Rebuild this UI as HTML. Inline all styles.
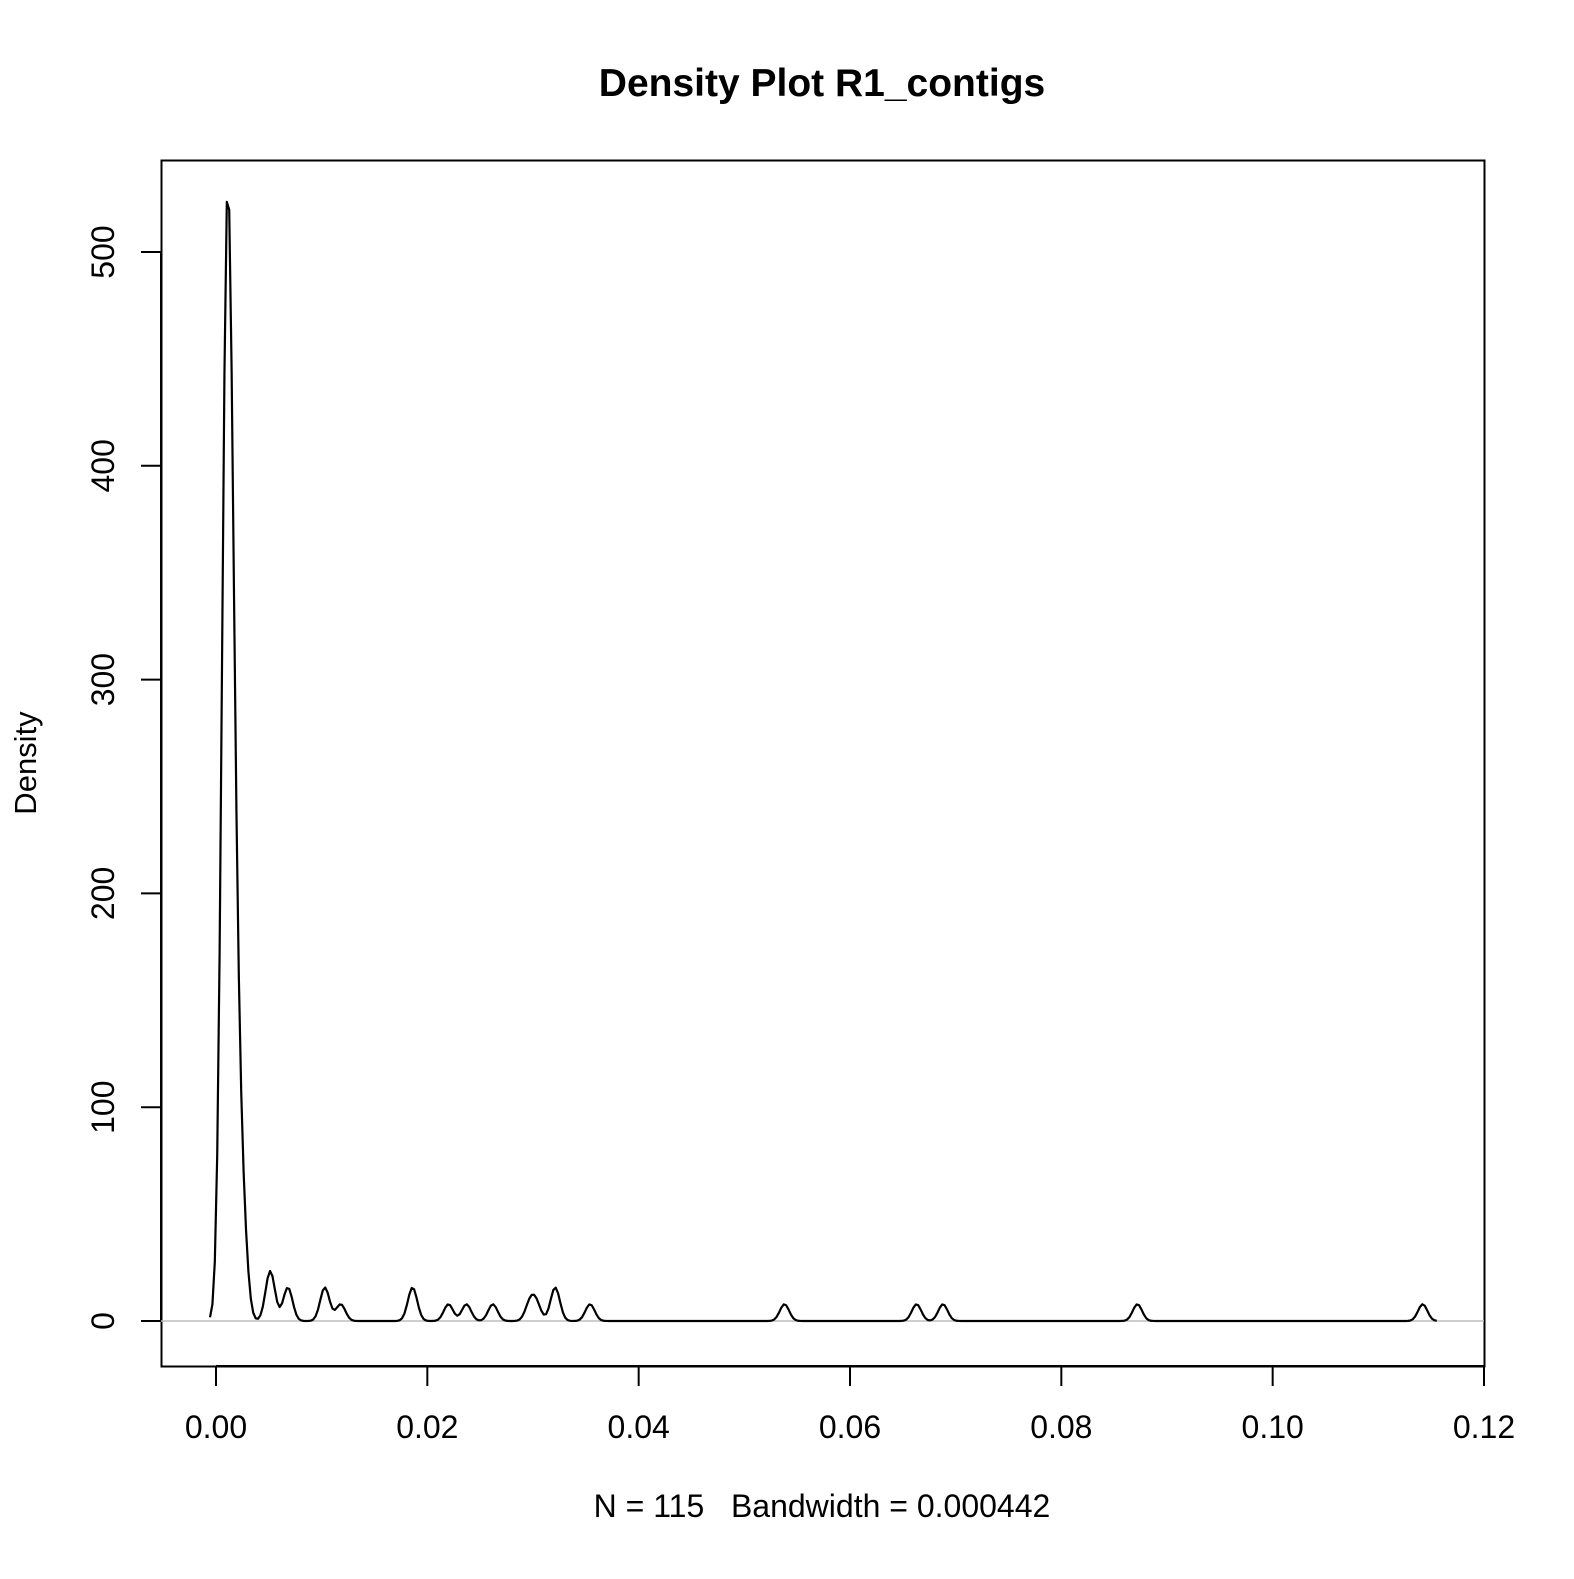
<!DOCTYPE html>
<html><head><meta charset="utf-8"><style>
html,body{margin:0;padding:0;background:#fff}
svg text{font-family:"Liberation Sans",Arial,sans-serif;fill:#000}
</style></head><body>
<svg id="chart" width="1574" height="1574" viewBox="0 0 1574 1574" xmlns="http://www.w3.org/2000/svg">
<rect width="1574" height="1574" fill="#fff"/>
<text x="822" y="96" font-size="39" font-weight="bold" text-anchor="middle">Density Plot R1_contigs</text>
<rect x="161.5" y="160.5" width="1323" height="1206" fill="none" stroke="#000" stroke-width="2"/>
<g id="xaxis"></g>
<g id="yaxis"></g>
<text transform="translate(36,763) rotate(-90)" font-size="31" text-anchor="middle">Density</text>
<text x="822" y="1517" font-size="32" text-anchor="middle" style="white-space:pre" xml:space="preserve">N = 115   Bandwidth = 0.000442</text>
<g id="plot"></g>
</svg>
<script>
// sample values (density estimated from these)
const mainCluster = [
 0.00076,0.00076,0.00076,0.00076,0.00076,0.00076,0.00076,0.00076,0.00076,0.00076,0.00076,0.00076,
 0.0009,0.0009,0.0009,0.0009,0.0009,0.0009,0.0009,0.0009,0.0009,0.0009,0.0009,0.0009,0.0009,0.0009,0.0009,
 0.00105,0.00105,0.00105,0.00105,0.00105,0.00105,0.00105,0.00105,0.00105,0.00105,0.00105,0.00105,0.00105,0.00105,0.00105,0.00105,
 0.0012,0.0012,0.0012,0.0012,0.0012,0.0012,0.0012,0.0012,0.0012,0.0012,0.0012,0.0012,0.0012,0.0012,0.0012,
 0.0014,0.0014,0.0014,0.0014,0.0014,0.0014,0.0014,0.0014,0.0014,0.0014,0.0014,0.0014,
 0.0017,0.0017,0.0017,0.0017,0.0017,0.0017,0.0017,0.0017,0.0017,0.0017,0.0017,0.0017,
 0.0021,0.0021,0.0021,0.0021,0.0021,0.0021,
 0.0026,0.0026,0.0026,0.0026];
const tailValues = [0.0051,0.0051,0.0052,0.0068,0.0068,0.0103,0.0103,0.0118,0.0186,0.0186,0.022,0.0237,0.0262,0.0297,0.0303,0.0321,0.0321,0.0354,0.0538,0.0663,0.0688,0.0872,0.1142];
const bandwidth = 0.000442;
const xTicks = [0,0.02,0.04,0.06,0.08,0.10,0.12];
const xTickLabels = ["0.00","0.02","0.04","0.06","0.08","0.10","0.12"];
const yTicks = [0,100,200,300,400,500];
const yTickLabels = ["0","100","200","300","400","500"];

const NS="http://www.w3.org/2000/svg";
const X = v => 216 + v*(1484-216)/0.12;
const Y = v => 1321 - v*(1321-252)/500;
function mk(t,a,p){const e=document.createElementNS(NS,t);for(const k in a)e.setAttribute(k,a[k]);p.appendChild(e);return e;}
const xa=document.getElementById('xaxis'), ya=document.getElementById('yaxis'), pl=document.getElementById('plot');
mk('line',{x1:X(0),x2:X(0.12),y1:1366,y2:1366,stroke:'#000','stroke-width':2},xa);
xTicks.forEach((t,i)=>{
  const l=mk('line',{x1:X(t),x2:X(t),y1:1366,y2:1386,stroke:'#000','stroke-width':2},xa);
  
  
  const tx=mk('text',{x:X(t),y:1438,'font-size':32,'text-anchor':'middle'},xa);tx.textContent=xTickLabels[i];
  
  
});
mk('line',{x1:161,x2:161,y1:Y(0),y2:Y(500),stroke:'#000','stroke-width':2},ya);
yTicks.forEach((t,i)=>{
  const l=mk('line',{x1:141,x2:161,y1:Y(t),y2:Y(t),stroke:'#000','stroke-width':2},ya);
  
  
  const tx=mk('text',{transform:`translate(114,${Y(t)}) rotate(-90)`,'font-size':32,'text-anchor':'middle'},ya);tx.textContent=yTickLabels[i];
  
  
});
const zl=mk('line',{x1:161,x2:1484,y1:Y(0),y2:Y(0),stroke:'#bebebe','stroke-width':1.5},pl);


const data=mainCluster.concat(tailValues);
const n=data.length, lo=Math.min(...data)-3*bandwidth, hi=Math.max(...data)+3*bandwidth;
let d='';
const N=512;
for(let i=0;i<N;i++){
  const x=lo+(hi-lo)*i/(N-1);
  let s=0;for(const v of data){const z=(x-v)/bandwidth;s+=Math.exp(-0.5*z*z);}
  const y=s/(n*bandwidth*Math.sqrt(2*Math.PI));
  d+=(i?'L':'M')+X(x).toFixed(2)+','+Y(y).toFixed(2);
}
const path=mk('path',{d:d,fill:'none',stroke:'#000','stroke-width':2.2,'stroke-linejoin':'round'},pl);


</script>
</body></html>
